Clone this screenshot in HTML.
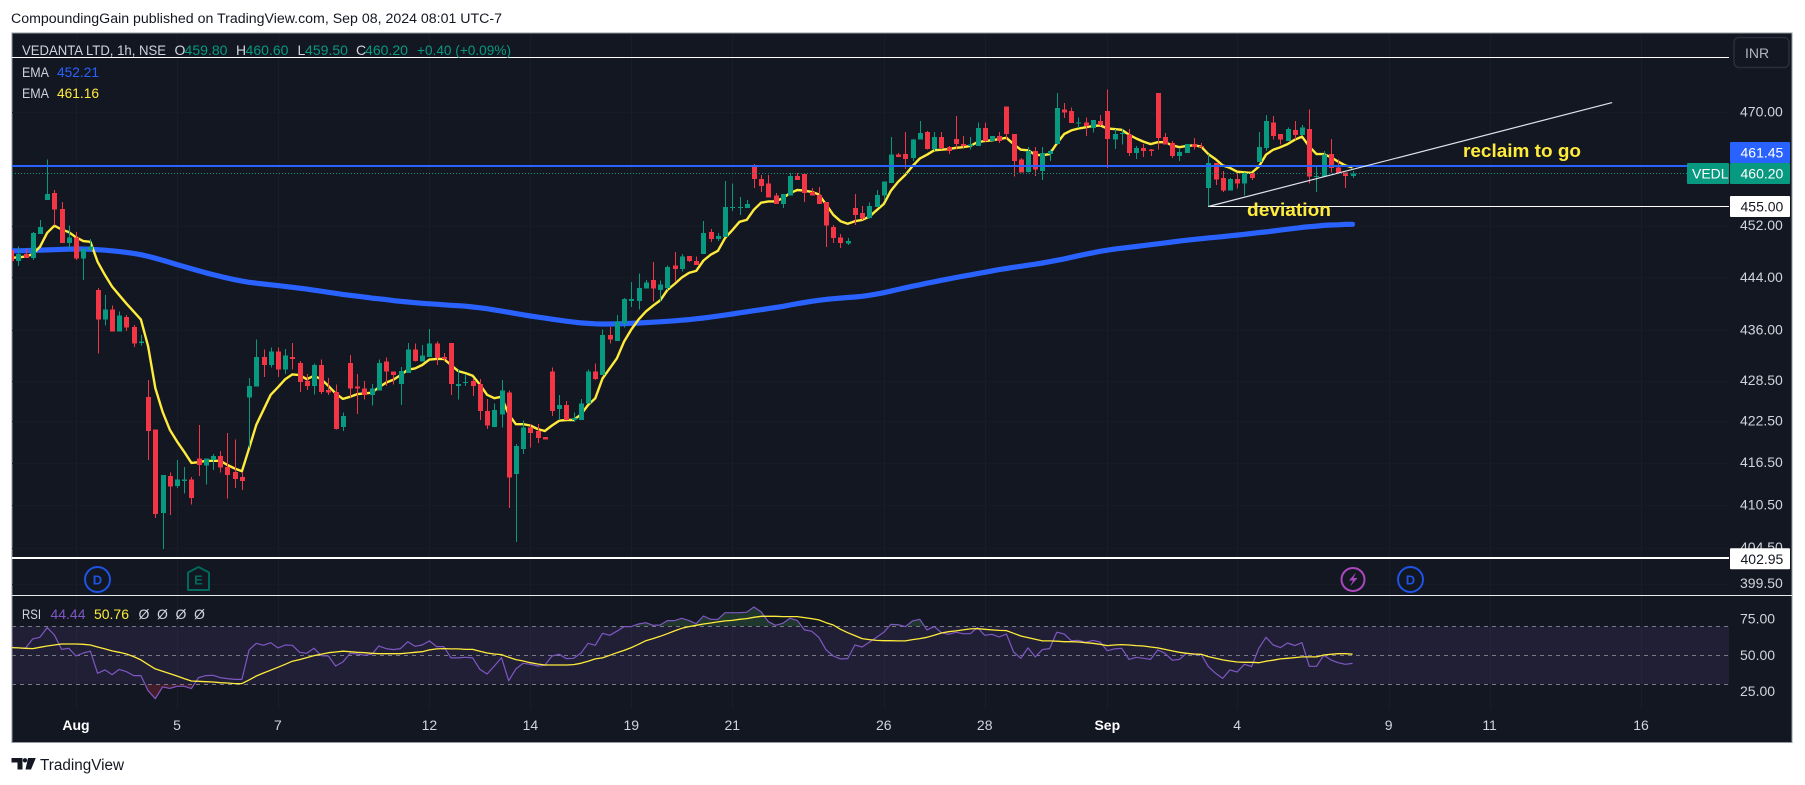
<!DOCTYPE html>
<html lang="en">
<head>
<meta charset="utf-8">
<title>VEDANTA LTD chart</title>
<style>
html,body{margin:0;padding:0;background:#fff;width:1805px;height:785px;overflow:hidden}
svg{display:block;font-family:"Liberation Sans",sans-serif}
text{white-space:pre}
</style>
</head>
<body>
<svg id="chart" xmlns="http://www.w3.org/2000/svg" width="1805" height="785" viewBox="0 0 1805 785">
  <defs>
    <clipPath id="main-clip"><rect x="12" y="33" width="1717" height="562"/></clipPath>
    <clipPath id="rsi-clip"><rect x="12" y="596" width="1717" height="113"/></clipPath>
  </defs>
  <rect x="0" y="0" width="1805" height="785" fill="#ffffff"/>
  <text x="11" y="23" font-size="13.5" fill="#131722" textLength="491" lengthAdjust="spacingAndGlyphs">CompoundingGain published on TradingView.com, Sep 08, 2024 08:01 UTC-7</text>
  <rect x="12" y="33" width="1780" height="709.5" fill="#131722" stroke="#9598a1" stroke-width="1"/>

  <g id="grid-layer"></g>
  <g id="rsi-layer" clip-path="url(#rsi-clip)"></g>
  <g id="ema-layer" clip-path="url(#main-clip)"></g>
  <g id="candle-layer" clip-path="url(#main-clip)"></g>
  <g id="drawing-layer" clip-path="url(#main-clip)"></g>

  <line x1="12" x2="1792" y1="595.5" y2="595.5" stroke="#e8e9ed" stroke-width="1"/>

  <g id="price-axis"></g>
  <g id="rsi-axis"></g>
  <g id="time-axis"></g>

  <text x="1463" y="157" font-size="18.5" font-weight="bold" fill="#ffeb3b" textLength="118" lengthAdjust="spacingAndGlyphs">reclaim to go</text>
  <text x="1247" y="216" font-size="18.5" font-weight="bold" fill="#ffeb3b" textLength="84" lengthAdjust="spacingAndGlyphs">deviation</text>

  <g font-size="14">
    <text x="22" y="55" fill="#d1d4dc" textLength="144" lengthAdjust="spacingAndGlyphs">VEDANTA LTD, 1h, NSE</text>
    <text x="174.5" y="55" fill="#d1d4dc">O</text>
    <text x="184.5" y="55" fill="#089981" textLength="43" lengthAdjust="spacingAndGlyphs">459.80</text>
    <text x="236" y="55" fill="#d1d4dc">H</text>
    <text x="245.5" y="55" fill="#089981" textLength="43" lengthAdjust="spacingAndGlyphs">460.60</text>
    <text x="297.5" y="55" fill="#d1d4dc">L</text>
    <text x="305" y="55" fill="#089981" textLength="43" lengthAdjust="spacingAndGlyphs">459.50</text>
    <text x="356" y="55" fill="#d1d4dc">C</text>
    <text x="365" y="55" fill="#089981" textLength="43" lengthAdjust="spacingAndGlyphs">460.20</text>
    <text x="417" y="55" fill="#089981" textLength="94" lengthAdjust="spacingAndGlyphs">+0.40 (+0.09%)</text>
    <text x="22" y="77" fill="#d1d4dc" textLength="27" lengthAdjust="spacingAndGlyphs">EMA</text>
    <text x="57" y="77" fill="#2962ff" textLength="42" lengthAdjust="spacingAndGlyphs">452.21</text>
    <text x="22" y="98" fill="#d1d4dc" textLength="27" lengthAdjust="spacingAndGlyphs">EMA</text>
    <text x="57" y="98" fill="#ffeb3b" textLength="42" lengthAdjust="spacingAndGlyphs">461.16</text>
  </g>

  <g font-size="14">
    <text x="22" y="619" fill="#d1d4dc" textLength="19" lengthAdjust="spacingAndGlyphs">RSI</text>
    <text x="50.5" y="619" fill="#7e57c2" textLength="35" lengthAdjust="spacingAndGlyphs">44.44</text>
    <text x="94" y="619" fill="#ffeb3b" textLength="35" lengthAdjust="spacingAndGlyphs">50.76</text>
    <text x="138.5" y="619" fill="#d1d4dc">Ø</text>
    <text x="157" y="619" fill="#d1d4dc">Ø</text>
    <text x="175.5" y="619" fill="#d1d4dc">Ø</text>
    <text x="194" y="619" fill="#d1d4dc">Ø</text>
  </g>

  <g>
    <circle cx="97.5" cy="579.5" r="12.5" fill="#131722" stroke="#1e53e5" stroke-width="2"/>
    <text x="97.5" y="584.5" font-size="13" font-weight="bold" fill="#1e53e5" text-anchor="middle">D</text>
  </g>
  <g>
    <path d="M188 572.5 L198.5 567 L209 572.5 L209 590 L188 590 Z" fill="#131722" stroke="#00695c" stroke-width="2" stroke-linejoin="round"/>
    <text x="198.5" y="584.5" font-size="13" font-weight="bold" fill="#00695c" text-anchor="middle">E</text>
  </g>
  <g>
    <circle cx="1353" cy="579.5" r="11.5" fill="#131722" stroke="#ab47bc" stroke-width="2"/>
    <path d="M1356 572.5 L1349 580.5 L1353 580.5 L1350 586.5 L1357.5 578 L1353.5 578 Z" fill="#ab47bc"/>
  </g>
  <g>
    <circle cx="1410.5" cy="579.5" r="12.5" fill="#131722" stroke="#1e53e5" stroke-width="2"/>
    <text x="1410.5" y="584.5" font-size="13" font-weight="bold" fill="#1e53e5" text-anchor="middle">D</text>
  </g>

  <g>
    <path d="M11.5 758 H22.5 V769.5 H17.5 V762.5 H11.5 Z M28 758 H35.8 L31 769.5 H25.5 Z" fill="#131722"/>
    <circle cx="25" cy="760.3" r="2.2" fill="#131722"/>
    <text x="40" y="770" font-size="15.5" fill="#131722" textLength="84" lengthAdjust="spacingAndGlyphs">TradingView</text>
  </g>
</svg>

<script>
const opens=[448.2,446.5,447.6,447.0,450.7,456.0,457.1,454.6,449.3,450.2,446.9,448.2,442.1,437.6,439.1,435.8,438.0,436.5,434.1,426.1,421.3,409.4,414.6,413.2,413.9,414.1,417.1,416.1,416.9,417.5,415.9,415.2,414.5,426.0,427.6,432.0,430.8,432.8,430.1,432.0,431.1,428.4,427.7,430.8,427.1,426.8,421.7,431.1,427.6,427.3,426.4,427.0,431.3,429.8,428.0,429.6,433.1,431.3,432.0,434.0,432.0,434.1,427.7,428.2,428.4,428.0,424.0,421.7,423.5,426.7,414.9,418.5,421.6,421.1,420.2,429.8,424.3,424.9,422.7,422.7,425.1,429.8,429.3,435.3,434.4,437.0,440.4,440.4,442.3,443.6,442.1,442.4,445.8,445.3,447.3,446.5,447.6,451.0,449.9,450.2,454.8,454.8,454.8,461.4,459.3,458.6,456.7,455.4,456.7,459.8,460.1,457.3,456.8,455.7,451.8,450.2,449.2,454.8,454.0,453.2,454.9,456.7,458.7,463.2,463.3,462.7,465.6,466.8,464.1,466.0,464.4,465.7,464.9,464.6,464.6,467.5,465.4,466.2,471.0,466.5,462.4,460.4,463.8,460.6,463.3,464.9,470.5,470.2,468.3,468.4,467.5,468.6,470.2,465.6,466.5,466.4,463.5,464.3,464.0,473.2,466.0,465.1,463.0,463.5,464.9,464.6,457.9,461.9,459.5,457.5,459.3,458.6,460.3,462.0,464.3,468.4,466.5,465.4,467.2,466.4,467.3,459.7,459.7,463.3,461.2,460.4,459.8];
const highs=[448.5,448.8,448.4,451.0,452.9,462.4,457.6,455.7,452.0,451.0,448.5,449.9,442.4,441.3,439.7,438.8,438.3,436.8,435.3,428.6,421.3,414.8,415.1,416.9,415.9,414.5,422.0,417.1,417.8,418.2,420.8,419.9,415.2,428.9,434.6,433.1,433.4,433.4,433.2,434.1,431.4,429.5,431.0,431.6,428.9,427.9,423.8,432.3,429.5,428.4,428.0,431.6,431.9,429.8,430.5,434.1,434.0,433.8,436.2,434.3,432.6,434.1,430.2,429.5,428.7,428.7,425.8,425.1,428.6,427.0,419.2,422.6,422.1,422.1,420.2,430.4,426.4,425.5,423.8,425.8,430.1,431.0,436.1,436.5,438.3,440.9,443.3,444.6,443.6,446.4,443.5,445.8,447.9,447.6,447.3,447.2,452.7,451.5,450.9,459.0,458.6,456.5,456.0,461.7,460.0,460.0,457.1,457.0,460.3,460.3,460.1,457.9,458.1,455.7,452.1,450.7,450.1,457.0,455.1,455.6,457.6,458.9,466.0,463.5,466.8,465.7,468.6,467.0,466.8,466.8,464.6,469.4,466.2,466.0,468.4,468.4,466.2,466.8,471.0,466.5,462.7,464.4,464.4,464.4,464.0,473.2,471.5,470.8,469.2,469.2,468.8,469.6,473.7,467.3,467.3,467.3,464.6,464.9,464.1,473.2,466.7,465.4,464.1,464.9,465.9,465.1,463.2,461.9,460.6,459.5,460.3,460.4,460.3,466.8,469.6,469.4,466.5,467.6,468.6,468.0,470.5,461.4,463.8,465.7,462.4,460.4,460.6];
const lows=[446.4,445.8,447.0,446.7,450.7,456.0,452.0,449.3,448.4,446.7,443.6,448.2,432.5,436.7,435.8,435.8,435.9,433.5,433.7,416.9,408.7,404.3,409.1,412.9,412.1,410.6,414.6,413.4,415.5,415.1,411.4,412.9,412.6,418.7,427.6,429.0,430.4,429.0,429.5,430.1,426.8,427.1,426.4,426.5,426.4,421.3,421.1,426.0,423.6,425.7,424.8,427.0,427.7,427.9,424.9,429.6,431.3,431.3,432.0,430.8,431.4,426.4,425.7,427.7,426.2,422.7,421.4,421.7,421.6,410.1,405.3,417.8,418.7,419.4,419.9,423.3,422.7,422.7,422.4,422.7,425.1,428.6,429.3,434.0,434.4,436.4,439.5,439.1,442.3,440.3,440.3,442.1,443.3,444.9,446.4,445.9,447.6,449.5,449.6,450.2,454.3,453.7,454.8,457.9,457.3,456.4,455.4,454.8,456.7,459.2,455.7,456.7,455.4,448.7,449.3,448.5,449.0,452.1,452.9,453.1,454.9,455.9,458.7,462.8,460.9,462.2,465.6,464.0,463.8,464.0,463.3,464.0,464.3,464.0,464.6,465.2,465.4,465.1,465.6,459.7,460.4,460.4,459.8,459.2,462.2,464.9,469.1,468.3,467.5,466.2,466.8,467.8,461.1,464.1,464.8,463.0,462.5,462.8,463.0,464.0,464.8,462.7,462.2,463.5,464.0,464.1,455.1,458.4,457.3,457.5,457.8,456.7,459.2,462.0,463.8,465.6,464.8,465.4,465.6,466.4,458.6,457.3,459.7,460.4,460.3,457.9,459.5];
const closes=[446.5,447.6,447.0,450.9,451.8,457.0,454.5,449.3,450.2,446.9,448.4,448.8,437.6,439.1,435.8,438.2,436.4,434.0,434.3,421.1,409.2,414.8,413.1,414.1,414.1,411.5,416.2,417.1,417.5,415.8,414.8,414.2,413.9,427.7,432.0,430.8,432.8,430.1,432.2,431.7,428.3,427.7,430.8,426.8,426.7,421.4,423.3,427.3,427.3,426.4,427.3,431.1,429.8,429.3,429.9,433.1,431.4,432.2,434.0,431.9,431.7,428.0,428.0,428.3,427.7,424.0,421.9,424.2,427.0,414.4,418.9,421.6,420.8,420.1,419.9,424.0,424.9,422.7,423.0,425.1,429.8,428.7,435.3,434.6,437.3,440.7,440.7,442.4,443.2,442.3,442.9,445.6,445.3,447.2,446.5,445.9,450.9,449.9,450.4,454.9,454.9,454.9,455.4,459.3,458.2,456.4,455.4,457.0,459.8,459.2,457.1,456.7,455.4,452.0,450.1,449.3,449.6,453.7,453.1,455.1,456.8,458.9,463.2,462.8,462.5,465.6,466.7,464.1,466.0,464.3,463.8,464.9,464.6,464.8,467.5,465.4,466.2,465.4,466.5,462.2,460.4,463.8,460.8,463.5,463.8,470.7,470.0,468.3,468.4,467.8,468.8,468.0,465.7,466.5,466.7,463.5,464.3,463.8,463.8,465.9,464.8,463.0,463.6,464.9,464.4,464.4,461.9,459.3,457.5,459.3,458.6,460.3,459.5,464.4,468.6,466.2,465.6,467.3,466.4,467.6,459.7,459.8,463.2,461.1,460.3,459.8,460.2];
const emaSlow=[448.1,448.1,448.1,448.2,448.2,448.2,448.3,448.3,448.4,448.4,448.4,448.4,448.3,448.2,448.1,448.0,447.9,447.7,447.6,447.3,447.0,446.6,446.3,446.0,445.7,445.3,445.0,444.7,444.4,444.2,443.9,443.6,443.4,443.2,443.1,443.0,442.9,442.8,442.6,442.5,442.4,442.2,442.1,441.9,441.7,441.6,441.4,441.3,441.1,441.0,440.9,440.7,440.6,440.5,440.4,440.2,440.1,440.1,440.0,439.9,439.8,439.8,439.7,439.6,439.6,439.4,439.2,439.1,438.9,438.7,438.5,438.3,438.1,438.0,437.8,437.7,437.5,437.3,437.2,437.1,437.0,436.9,436.9,436.9,437.0,437.0,437.0,437.1,437.1,437.2,437.3,437.3,437.4,437.5,437.6,437.7,437.8,438.0,438.1,438.3,438.4,438.6,438.8,439.0,439.1,439.2,439.4,439.6,439.8,440.0,440.2,440.4,440.5,440.7,440.8,440.9,440.9,441.0,441.1,441.2,441.4,441.7,441.9,442.2,442.4,442.7,442.9,443.1,443.3,443.6,443.8,444.0,444.2,444.4,444.6,444.8,445.0,445.2,445.4,445.6,445.7,445.9,446.0,446.2,446.4,446.6,446.9,447.1,447.3,447.6,447.8,448.1,448.2,448.4,448.5,448.6,448.8,448.9,449.0,449.2,449.3,449.5,449.6,449.7,449.9,450.0,450.1,450.2,450.3,450.4,450.5,450.7,450.8,450.9,451.0,451.2,451.3,451.5,451.6,451.7,451.9,452.0,452.0,452.1,452.2,452.2,452.21];
const emaFast=[447.0,447.1,447.2,447.6,448.7,450.9,452.0,451.4,451.0,450.2,449.6,449.5,446.4,444.4,442.6,441.3,440.0,438.8,437.6,433.6,427.4,423.9,421.3,419.6,418.1,416.5,416.6,416.8,416.8,416.8,416.2,415.7,415.3,418.6,422.0,424.2,426.4,427.5,428.7,429.4,429.3,428.7,429.2,428.7,427.7,426.6,425.8,426.1,426.5,426.6,426.7,427.5,428.2,428.6,429.3,430.1,430.3,430.8,431.6,431.7,431.7,430.8,429.9,429.6,429.2,427.9,426.4,425.9,426.1,423.5,422.1,422.1,421.9,421.4,421.1,421.9,422.6,422.7,422.7,423.5,424.9,425.9,428.8,430.3,431.8,434.3,436.1,437.6,438.8,439.7,440.5,442.1,443.0,444.0,444.7,445.0,446.6,447.5,448.1,450.1,451.3,452.6,452.9,454.5,455.6,455.8,455.8,456.3,457.1,457.6,457.5,457.3,456.9,455.3,453.7,452.7,452.3,452.7,452.9,453.4,454.4,455.4,457.5,458.9,460.0,461.4,462.6,463.2,463.9,464.0,464.1,464.3,464.4,464.6,465.2,465.4,465.5,465.7,465.9,464.9,464.0,463.9,463.2,463.1,463.3,465.0,466.5,467.1,467.4,467.6,467.8,467.9,467.4,467.3,467.2,466.4,465.8,465.3,464.9,465.2,465.2,464.7,464.4,464.6,464.7,464.5,463.3,462.5,461.5,461.1,460.5,460.4,460.3,461.3,463.2,464.0,464.4,464.9,465.6,466.1,464.5,463.3,463.3,462.8,462.1,461.5,461.16];
const rsiValues=[55.5,55.1,54.8,61.3,62.4,69.1,64.0,54.1,54.8,49.5,51.6,52.8,37.6,39.9,36.7,40.3,38.7,36.0,36.0,25.6,20.1,28.2,27.2,28.6,28.6,27.0,34.6,36.0,36.2,34.6,33.9,33.4,33.4,53.7,58.3,56.9,58.7,55.1,57.1,56.9,52.1,51.4,54.8,49.8,49.5,42.6,45.4,51.4,50.9,50.0,50.7,56.4,54.6,53.9,54.6,59.4,56.2,57.1,59.9,56.0,56.0,48.2,48.2,48.6,48.2,40.3,37.1,42.6,48.4,32.5,40.6,44.5,43.8,42.6,43.1,49.5,50.7,47.7,47.9,51.4,58.3,56.9,65.2,63.8,66.6,69.8,69.8,71.6,72.5,70.7,70.9,73.9,73.9,75.5,73.9,71.8,77.1,74.8,74.8,79.4,79.4,79.4,79.7,83.3,79.9,73.2,70.7,72.1,75.5,74.1,67.5,66.6,62.4,53.7,49.5,47.5,47.7,57.1,55.7,59.0,62.4,65.9,71.4,71.1,69.8,73.7,74.8,67.5,69.8,65.6,64.5,65.9,64.9,64.9,69.1,63.8,64.5,62.6,64.7,52.3,47.9,55.1,48.9,53.9,54.6,65.9,64.7,60.1,60.3,59.0,60.3,59.2,53.2,54.4,54.8,47.2,48.6,47.9,47.2,53.7,51.4,46.6,47.2,51.4,50.5,50.7,42.2,37.6,34.1,39.9,38.5,43.8,42.2,54.8,62.4,57.1,55.3,58.5,56.7,58.7,42.4,42.4,50.0,46.8,44.9,43.8,44.44];
const rsiMa=[55.3,55.1,54.8,54.6,55.5,56.4,57.1,57.8,57.8,57.8,57.6,57.1,55.7,54.4,53.0,52.1,50.9,49.1,46.8,43.6,40.6,39.0,37.4,35.7,33.9,32.3,32.1,31.8,31.6,31.1,30.9,30.5,30.5,33.0,35.7,37.8,39.7,41.7,43.8,45.9,47.0,48.4,49.8,50.7,51.8,52.3,52.8,52.5,52.1,51.8,51.4,51.1,51.1,51.1,51.1,51.6,52.1,52.5,53.7,54.4,54.6,54.4,54.4,54.1,54.1,52.8,51.6,50.9,50.5,48.6,47.0,46.1,44.9,44.0,43.3,43.3,43.3,43.3,43.6,44.5,45.9,47.5,48.2,50.0,51.8,53.4,55.3,57.6,60.1,61.5,63.1,64.9,66.8,68.6,69.8,70.7,71.6,72.3,73.0,73.7,74.1,74.8,75.3,76.2,76.9,76.9,76.9,76.7,76.7,76.7,76.0,75.3,74.4,72.5,70.9,67.9,65.6,63.6,61.5,60.8,60.3,60.1,60.1,59.9,59.9,60.8,61.5,62.4,63.8,65.4,66.3,66.8,67.5,68.2,68.4,67.9,67.5,67.2,67.0,65.2,63.3,62.2,61.0,59.9,59.9,59.7,59.4,59.4,59.2,58.7,58.3,57.6,56.7,57.1,57.4,57.1,56.7,56.4,55.7,55.1,54.1,53.0,52.1,51.4,50.9,50.7,49.1,47.9,46.8,46.1,45.4,45.2,45.2,44.9,45.9,46.6,47.5,47.9,48.4,48.9,48.9,48.9,50.2,50.7,51.1,51.1,50.76];
const priceTicks=[470,452,444,436,428.5,422.5,416.5,410.5,404.5,399.5];
const rsiTicks=[75,50,25];
const rsiLevels=[70,50,30];
const timeTickIndex=[9,23,37,58,72,86,100,121,135,152,170,191,205,226];
const timeTickLabels=["Aug","5","7","12","14","19","21","26","28","Sep","4","9","11","16"];
const timeTickBold=["Aug","Sep"];
const lastPrice=460.20;
const alertPrice=461.45;
const upperLevel=479;
const deviationLevel=455;
const lowerLevel=402.95;
const trendStartPrice=455;
const trendEndPrice=471.6;
const trendStartIndex=166;
const trendEndIndex=222;

const NS='http://www.w3.org/2000/svg';
function xAt(i){return 11.1+7.212*i;}
function yPrice(p){return 206.5-2900*Math.log(p/455);}
function yRsi(v){return 655.3-(v-50)*1.45;}
function mk(tag,parent){const el=document.createElementNS(NS,tag);parent.appendChild(el);return el;}
function setA(el,o){for(const k in o){el.setAttribute(k,o[k]);}return el;}
function smoothed(arr,w){return arr.map(function(v,i){const r=Math.min(w,i,arr.length-1-i);let s=0;for(let j=i-r;j<=i+r;j++){s+=arr[j];}return s/(2*r+1);});}
const X0=12,X1=1729;

/* grid */
const gridLayer=document.getElementById('grid-layer');
timeTickIndex.forEach(function(idx){
  const l=mk('line',gridLayer);
  
  
  const gx=Math.round(xAt(idx))+0.5;
  setA(l,{x1:gx,x2:gx,y1:34,y2:709,stroke:'#191d28','stroke-width':1});
});
priceTicks.forEach(function(p){
  const l=mk('line',gridLayer);
  
  
  const gy=Math.round(yPrice(p))+0.5;
  setA(l,{x1:X0,x2:X1,y1:gy,y2:gy,stroke:'#171b26','stroke-width':1});
});

/* ema lines */
const emaLayer=document.getElementById('ema-layer');
function polyPoints(arr,yf){return arr.map(function(v,i){return xAt(i).toFixed(1)+','+yf(v).toFixed(1);}).join(' ');}
const slowLine=mk('polyline',emaLayer);


setA(slowLine,{points:polyPoints(smoothed(emaSlow,2),yPrice),fill:'none',stroke:'#2962ff','stroke-width':5.2,'stroke-linejoin':'round','stroke-linecap':'round'});
const fastLine=mk('polyline',emaLayer);


setA(fastLine,{points:polyPoints(emaFast,yPrice),fill:'none',stroke:'#ffeb3b','stroke-width':2.4,'stroke-linejoin':'round'});

/* candles */
const candleLayer=document.getElementById('candle-layer');
closes.forEach(function(c,i){
  const o=opens[i],h=highs[i],l=lows[i];
  const color=c>=o?'#089981':'#f23645';
  const cx=Math.round(xAt(i));
  const wick=mk('rect',candleLayer);
  
  
  setA(wick,{x:cx,y:yPrice(h).toFixed(1),width:1,height:Math.max(1,yPrice(l)-yPrice(h)).toFixed(1),fill:color,'shape-rendering':'crispEdges'});
  const top=yPrice(Math.max(o,c)),bot=yPrice(Math.min(o,c));
  const body=mk('rect',candleLayer);
  
  
  setA(body,{x:cx-2,y:top.toFixed(1),width:5,height:Math.max(1,bot-top).toFixed(1),fill:color,'shape-rendering':'crispEdges'});
});

/* drawings */
const drawingLayer=document.getElementById('drawing-layer');
function snapOdd(y){return Math.floor(y)+0.5;}
const upperLine=mk('line',drawingLayer);


setA(upperLine,{x1:X0,x2:X1,y1:snapOdd(yPrice(upperLevel)),y2:snapOdd(yPrice(upperLevel)),stroke:'#ffffff','stroke-width':1});
const alertLine=mk('line',drawingLayer);


setA(alertLine,{x1:X0,x2:X1,y1:Math.round(yPrice(alertPrice)),y2:Math.round(yPrice(alertPrice)),stroke:'#2962ff','stroke-width':2});
const lastLine=mk('line',drawingLayer);


setA(lastLine,{x1:X0,x2:1687,y1:snapOdd(yPrice(lastPrice)),y2:snapOdd(yPrice(lastPrice)),stroke:'#089981','stroke-width':1,'stroke-dasharray':'1 2'});
const devLine=mk('line',drawingLayer);


setA(devLine,{x1:xAt(trendStartIndex),x2:X1,y1:snapOdd(yPrice(deviationLevel)),y2:snapOdd(yPrice(deviationLevel)),stroke:'#ffffff','stroke-width':1});
const lowLine=mk('line',drawingLayer);


setA(lowLine,{x1:X0,x2:X1,y1:Math.round(yPrice(lowerLevel)-0.5),y2:Math.round(yPrice(lowerLevel)-0.5),stroke:'#ffffff','stroke-width':2});
const trendLine=mk('line',drawingLayer);


setA(trendLine,{x1:xAt(trendStartIndex),y1:yPrice(trendStartPrice),x2:xAt(trendEndIndex),y2:yPrice(trendEndPrice),stroke:'#e0e3eb','stroke-width':1.2});

/* rsi pane */
const rsiLayer=document.getElementById('rsi-layer');
const band=mk('rect',rsiLayer);


setA(band,{x:X0,y:yRsi(rsiLevels[0]),width:X1-X0,height:yRsi(rsiLevels[2])-yRsi(rsiLevels[0]),fill:'#7e57c2','fill-opacity':0.13});
const defs=document.querySelector('#chart defs');
const clipHigh=mk('clipPath',defs);
setA(clipHigh,{id:'rsi-high-clip'});
setA(mk('rect',clipHigh),{x:X0,y:596,width:X1-X0,height:yRsi(rsiLevels[0])-596});
const clipLow=mk('clipPath',defs);
setA(clipLow,{id:'rsi-low-clip'});
setA(mk('rect',clipLow),{x:X0,y:yRsi(rsiLevels[2]),width:X1-X0,height:60});
const rsiFirst=xAt(0).toFixed(1),rsiLast=xAt(rsiValues.length-1).toFixed(1);
const obFill=mk('polygon',rsiLayer);


setA(obFill,{points:rsiFirst+','+yRsi(rsiLevels[0])+' '+polyPoints(rsiValues,yRsi)+' '+rsiLast+','+yRsi(rsiLevels[0]),fill:'#4caf50','fill-opacity':0.22,'clip-path':'url(#rsi-high-clip)'});
const osFill=mk('polygon',rsiLayer);


setA(osFill,{points:rsiFirst+','+yRsi(rsiLevels[2])+' '+polyPoints(rsiValues,yRsi)+' '+rsiLast+','+yRsi(rsiLevels[2]),fill:'#f23645','fill-opacity':0.22,'clip-path':'url(#rsi-low-clip)'});
rsiLevels.forEach(function(v){
  const l=mk('line',rsiLayer);
  
  
  setA(l,{x1:X0,x2:X1,y1:Math.floor(yRsi(v))+0.5,y2:Math.floor(yRsi(v))+0.5,stroke:'#787b86','stroke-width':1,'stroke-dasharray':'4 4'});
});
const rsiLine=mk('polyline',rsiLayer);


setA(rsiLine,{points:polyPoints(rsiValues,yRsi),fill:'none',stroke:'#7e57c2','stroke-width':1.2,'stroke-linejoin':'round'});
const maLine=mk('polyline',rsiLayer);


setA(maLine,{points:polyPoints(rsiMa,yRsi),fill:'none',stroke:'#ffeb3b','stroke-width':1.3,'stroke-linejoin':'round'});

/* axes */
const priceAxis=document.getElementById('price-axis');
priceTicks.forEach(function(p){
  const t=mk('text',priceAxis);
  
  
  setA(t,{x:1740,y:(yPrice(p)+4.3).toFixed(1),'font-size':14,fill:'#d1d4dc'});
  t.textContent=p.toFixed(2);
});
function priceBox(name,label,cy,fill,textFill,bx,bw){
  const g=mk('g',priceAxis);
  
  
  setA(mk('rect',g),{x:bx,y:cy-10.5,width:bw,height:21,fill:fill,rx:1});
  const t=mk('text',g);
  setA(t,{x:bx+(bw===60?10.5:5),y:cy+5,'font-size':14,fill:textFill});
  t.textContent=label;
}
priceBox('alert-price-label',alertPrice.toFixed(2),152.5,'#2962ff','#ffffff',1730,60);
priceBox('last-price-label',lastPrice.toFixed(2),yPrice(lastPrice),'#089981','#ffffff',1730,60);
priceBox('symbol-label','VEDL',yPrice(lastPrice),'#089981','#ffffff',1687,42);
priceBox('deviation-price-label',deviationLevel.toFixed(2),yPrice(deviationLevel),'#ffffff','#131722',1730,60);
priceBox('lower-price-label',lowerLevel.toFixed(2),yPrice(lowerLevel),'#ffffff','#131722',1730,60);
const inrBox=mk('rect',priceAxis);


setA(inrBox,{x:1734,y:37.5,width:55,height:30,rx:5,fill:'#131722',stroke:'#2a2e39','stroke-width':1.5});
const inrText=mk('text',priceAxis);


setA(inrText,{x:1745,y:58,'font-size':14,fill:'#b2b5be'});
inrText.textContent='INR';

const rsiAxis=document.getElementById('rsi-axis');
rsiTicks.forEach(function(v){
  const t=mk('text',rsiAxis);
  
  
  setA(t,{x:1740,y:(yRsi(v)+4.5).toFixed(1),'font-size':14,fill:'#d1d4dc'});
  t.textContent=v.toFixed(2);
});

const timeAxis=document.getElementById('time-axis');
timeTickLabels.forEach(function(lbl,k){
  const t=mk('text',timeAxis);
  
  
  const bold=timeTickBold.indexOf(lbl)>=0;
  setA(t,{x:xAt(timeTickIndex[k]).toFixed(1),y:730,'font-size':14,'text-anchor':'middle',fill:bold?'#ffffff':'#d1d4dc','font-weight':bold?'bold':'normal'});
  t.textContent=lbl;
});
</script>
</body>
</html>
